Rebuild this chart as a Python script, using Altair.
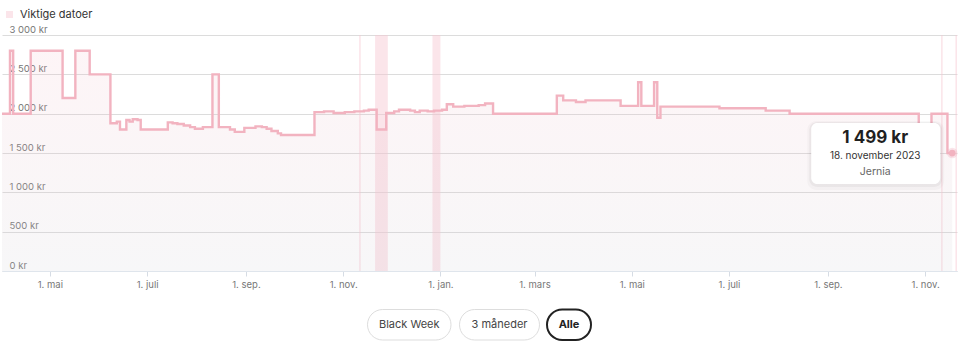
import json
import altair as alt
import pandas as pd

# ---------------- data ----------------
dates = [
    "2022-04-01", "2022-04-06", "2022-04-08", "2022-04-19", "2022-05-09", "2022-05-17", "2022-05-26",
    "2022-06-08", "2022-06-12", "2022-06-14", "2022-06-18", "2022-06-20", "2022-06-22", "2022-06-25",
    "2022-06-27", "2022-07-14", "2022-07-17", "2022-07-20", "2022-07-24", "2022-07-28", "2022-07-31",
    "2022-08-05", "2022-08-11", "2022-08-15", "2022-08-22", "2022-08-25", "2022-08-31", "2022-09-07",
    "2022-09-11", "2022-09-14", "2022-09-17", "2022-09-21", "2022-09-23", "2022-10-14", "2022-10-20",
    "2022-10-26", "2022-11-02", "2022-11-08", "2022-11-14", "2022-11-17", "2022-11-22", "2022-11-28",
    "2022-12-03", "2022-12-06", "2022-12-13", "2022-12-16", "2022-12-19", "2022-12-24", "2022-12-28",
    "2023-01-02", "2023-01-05", "2023-01-09", "2023-01-16", "2023-01-25", "2023-01-29", "2023-02-03",
    "2023-03-15", "2023-03-19", "2023-03-27", "2023-04-02", "2023-04-24", "2023-05-05", "2023-05-07",
    "2023-05-15", "2023-05-17", "2023-05-19", "2023-06-25", "2023-07-24", "2023-08-08", "2023-10-28",
    "2023-11-05", "2023-11-15", "2023-11-18",
]
prices = [
    1999, 2799, 1999, 2799, 2199, 2799, 2499,
    1879, 1899, 1799, 1919, 1899, 1929, 1919,
    1799, 1889, 1879, 1869, 1849, 1829, 1809,
    1829, 2499, 1829, 1799, 1769, 1819, 1839,
    1829, 1809, 1779, 1749, 1729, 2019, 2029,
    2009, 2019, 2029, 2039, 2049, 1799, 2009,
    2029, 2049, 2039, 2019, 2039, 2029, 2039,
    2049, 2119, 2089, 2099, 2109, 2129, 1999,
    2229, 2169, 2149, 2169, 2099, 2399, 2099,
    2399, 1949, 2089, 2069, 2039, 1999, 1799,
    1999, 1499, 1499,
]

band_starts = ["2022-11-11", "2022-11-21", "2022-12-27", "2023-11-11", "2023-11-20"]
band_ends = ["2022-11-12", "2022-11-29", "2023-01-01", "2023-11-12", "2023-11-27"]
band_label = "Viktige datoer"

y_ticks = [0, 500, 1000, 1500, 2000, 2500, 3000]
x_tick_months = [(2022, 5), (2022, 7), (2022, 9), (2022, 11), (2023, 1), (2023, 3),
                 (2023, 5), (2023, 7), (2023, 9), (2023, 11)]
month_names = ["jan.", "feb.", "mars", "april", "mai", "juni", "juli", "aug.", "sep.",
               "okt.", "nov.", "des."]

tooltip_price = "1 499 kr"
tooltip_date = "18. november 2023"
tooltip_shop = "Jernia"
buttons = ["Black Week", "3 måneder", "Alle"]

# ---------------- frames ----------------
price_df = pd.DataFrame({"date": dates, "price": prices})
band_df = pd.DataFrame({"start": band_starts, "end": band_ends, "label": band_label})
last_df = pd.DataFrame({"date": [dates[-1]], "price": [prices[-1]],
                        "p": [tooltip_price], "d": [tooltip_date], "s": [tooltip_shop]})

FONT = "Inter"
LINE = "#f2b3c0"

x_scale = alt.Scale(type="utc", domain=[alt.DateTime(year=2022, month=4, date=1, utc=True),
                                        alt.DateTime(year=2023, month=11, date=21, utc=True)])
y_scale = alt.Scale(domain=[0, 3000], nice=False)

x_axis = alt.Axis(
    values=[alt.DateTime(year=y, month=m, date=1, utc=True) for y, m in x_tick_months],
    labelExpr="'1. ' + " + json.dumps(month_names) + "[utcmonth(datum.value)]",
    title=None, grid=False, domainColor="#dfe5ec", tickColor="#d6dce4", tickSize=5,
    labelPadding=3, labelFontSize=9.5, labelColor="#777777", labelFont=FONT,
)
y_axis = alt.Axis(
    values=y_ticks,
    labelExpr="replace(format(datum.value, ','), ',', ' ') + ' kr'",
    title=None, grid=True, gridColor="#dcdcdc", domain=False, ticks=False, tickSize=0,
    labelAlign="left", labelPadding=-7, labelBaseline="alphabetic", labelOffset=-3,
    labelOverlap=False, labelFontSize=9.5, labelColor="#777777", labelFont=FONT,
)

X = lambda f: alt.X(f, scale=x_scale, axis=x_axis)
Y = lambda f: alt.Y(f, scale=y_scale, axis=y_axis)

bands = alt.Chart(band_df).mark_rect(clip=True, opacity=0.45).encode(
    x=X("start:T"),
    x2="end:T",
    color=alt.Color("label:N", scale=alt.Scale(range=["#f7c6d1"]),
                    legend=alt.Legend(title=None, orient="none", legendX=2, legendY=-26,
                                      symbolType="square", symbolSize=49, symbolStrokeWidth=0,
                                      labelFontSize=11, labelColor="#333333", labelFont=FONT,
                                      labelOffset=5)),
)

area = alt.Chart(price_df).mark_area(
    interpolate="step-after",
    color=alt.Gradient(gradient="linear",
                       stops=[alt.GradientStop(color="rgba(244,182,195,0.14)", offset=0),
                              alt.GradientStop(color="rgba(205,205,212,0.16)", offset=1)],
                       x1=1, x2=1, y1=0, y2=1),
).encode(x=X("date:T"), y=Y("price:Q"))

line = alt.Chart(price_df).mark_line(interpolate="step-after", color=LINE, strokeWidth=2.4).encode(
    x=X("date:T"), y=Y("price:Q"),
)

base_last = alt.Chart(last_df)
enc_pt = dict(x=X("date:T"), y=Y("price:Q"))
enc_box = dict(x=X("date:T"), x2="date:T", y=Y("price:Q"), y2="price:Q")

halo = base_last.mark_circle(size=110, color=LINE, opacity=0.35).encode(**enc_pt)
dot = base_last.mark_circle(size=45, color=LINE, opacity=1).encode(**enc_pt)

shadow1 = base_last.mark_rect(xOffset=-145, x2Offset=-8, yOffset=-32, y2Offset=37,
                              cornerRadius=9, color="#000000", opacity=0.025).encode(**enc_box)
shadow2 = base_last.mark_rect(xOffset=-143, x2Offset=-10, yOffset=-31, y2Offset=34,
                              cornerRadius=8, color="#000000", opacity=0.04).encode(**enc_box)
box = base_last.mark_rect(xOffset=-141, x2Offset=-12, yOffset=-30, y2Offset=31,
                          cornerRadius=6, color="#ffffff", opacity=1).encode(**enc_box)
t_price = base_last.mark_text(dx=-77, dy=-15, fontSize=17, fontWeight="bold", color="#1f1f1f",
                              font=FONT).encode(text="p:N", **enc_pt)
t_date = base_last.mark_text(dx=-77, dy=3, fontSize=10, color="#333333",
                             font=FONT).encode(text="d:N", **enc_pt)
t_shop = base_last.mark_text(dx=-77, dy=18.5, fontSize=10.5, color="#666666",
                             font=FONT).encode(text="s:N", **enc_pt)

# buttons below the chart (UI decoration)
btn_layers = []
btn_geo = [(365.5, 449, False), (457.5, 537.5, False), (545, 589, True)]
for label, (bx1, bx2, active) in zip(buttons, btn_geo):
    one = alt.Chart(pd.DataFrame({"label": [label]}))
    btn_layers.append(
        one.mark_rect(
            cornerRadius=15.5, fill="#ffffff",
            stroke="#222222" if active else "#dddddd",
            strokeWidth=2 if active else 1,
        ).encode(x=alt.value(bx1), x2=alt.value(bx2), y=alt.value(274.5), y2=alt.value(305))
    )
    btn_layers.append(
        one.mark_text(
            fontSize=11, font=FONT,
            fontWeight="bold" if active else "normal",
            color="#222222" if active else "#444444",
        ).encode(text="label:N", x=alt.value((bx1 + bx2) / 2), y=alt.value(290))
    )

chart = alt.layer(
    bands, area, line, halo, dot, shadow1, shadow2, box, t_price, t_date, t_shop, *btn_layers
).properties(
    width=955, height=236,
    padding={"left": 2, "top": 35, "right": 3, "bottom": 83},
    autosize=alt.AutoSizeParams(type="none"),
    background="#ffffff",
).configure_view(stroke=None)

chart.save("out.html", embed_options={"renderer": "svg", "actions": False})
